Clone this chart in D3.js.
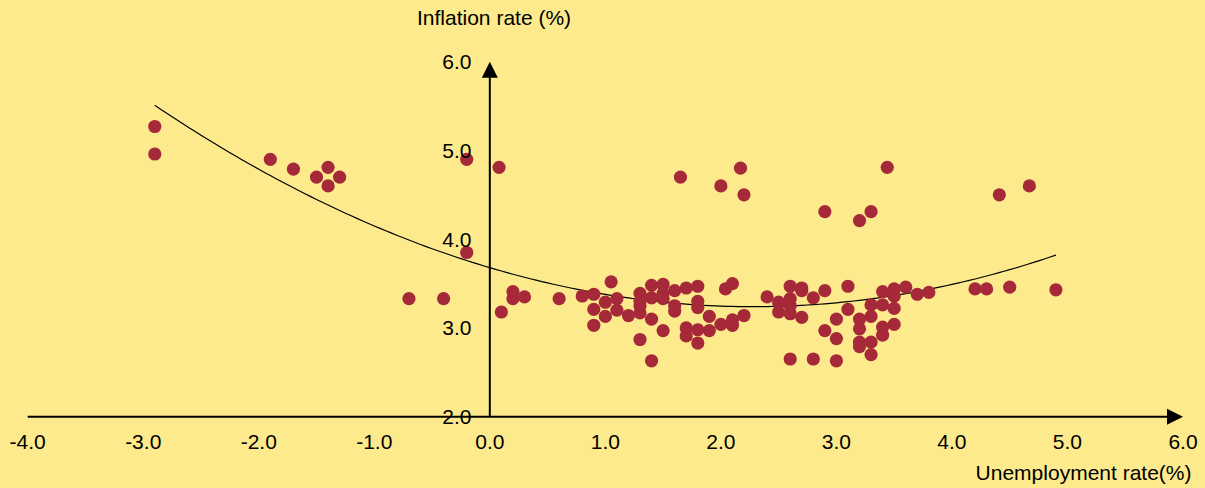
<!DOCTYPE html>
<html>
<head>
<meta charset="utf-8">
<script src="https://cdn.jsdelivr.net/npm/d3@7"></script>
<style>
  html, body { margin: 0; padding: 0; background: #FCEA8C; }
  svg { display: block; }
  text { font-family: "Liberation Sans", Arial, sans-serif; fill: #000; }
</style>
</head>
<body>
<svg id="chart" width="1205" height="488"></svg>
<script>
// ---- data ----
const unemployment = [
  -2.9, -2.9, -1.9, -1.7, -1.5, -1.4, -1.4, -1.3, -0.2, 0.08, -0.2, -0.7, -0.4, 0.1, 0.2, 0.2, 0.3, 0.6, 0.8,
  1.65, 2.0, 2.17, 2.2, 2.9, 3.2, 3.3, 3.44, 4.41, 4.67,
  4.2, 4.3, 4.5, 4.9,
  0.9, 1.05, 0.9, 0.9, 1.0, 1.0, 1.1, 1.1, 1.2, 1.3, 1.3, 1.3, 1.3, 1.3, 1.4, 1.4, 1.4, 1.4,
  1.5, 1.5, 1.5, 1.5, 1.6, 1.6, 1.6, 1.7, 1.7, 1.7, 1.8, 1.8, 1.8, 1.8, 1.8, 1.9, 1.9, 2.0, 2.04, 2.1, 2.1, 2.1, 2.2,
  2.4, 2.5, 2.5, 2.6, 2.6, 2.6, 2.6, 2.6, 2.7, 2.7, 2.7, 2.8, 2.8, 2.9, 2.9, 3.0, 3.0, 3.0,
  3.1, 3.1, 3.2, 3.2, 3.2, 3.2, 3.3, 3.3, 3.3, 3.3, 3.4, 3.4, 3.4, 3.4, 3.5, 3.5, 3.5, 3.5, 3.6, 3.7, 3.8
];
const inflation = [
  5.27, 4.96, 4.90, 4.79, 4.70, 4.81, 4.60, 4.70, 4.90, 4.81, 3.85, 3.33, 3.33, 3.18, 3.41, 3.33, 3.35, 3.33, 3.36,
  4.70, 4.60, 4.80, 4.50, 4.31, 4.21, 4.31, 4.81, 4.50, 4.60,
  3.44, 3.44, 3.46, 3.43,
  3.38, 3.52, 3.21, 3.03, 3.29, 3.13, 3.33, 3.20, 3.14, 3.39, 3.30, 3.25, 3.17, 2.87, 3.48, 3.34, 3.10, 2.63,
  3.49, 3.39, 3.33, 2.97, 3.42, 3.25, 3.19, 3.45, 3.00, 2.91, 3.47, 3.30, 3.23, 2.98, 2.83, 3.13, 2.97, 3.04, 3.44, 3.50, 3.09, 3.03, 3.14,
  3.35, 3.29, 3.18, 3.47, 3.33, 3.25, 3.16, 2.65, 3.45, 3.42, 3.12, 3.34, 2.65, 3.42, 2.97, 3.10, 2.88, 2.63,
  3.47, 3.21, 3.10, 2.99, 2.84, 2.79, 3.26, 3.13, 2.84, 2.70, 3.41, 3.26, 3.01, 2.92, 3.44, 3.36, 3.22, 3.04, 3.46, 3.38, 3.40
];
// quadratic trend line y = a*x^2 + b*x + c, over its x range
const trendCoefficients = [0.0846, -0.3856, 3.679];
const trendRange = [-2.9, 4.9];
const xTicks = [-4, -3, -2, -1, 0, 1, 2, 3, 4, 5, 6];
const yTicks = [2, 3, 4, 5, 6];
const xTitle = "Unemployment rate(%)";
const yTitle = "Inflation rate (%)";

// ---- drawing ----
const svg = d3.select("#chart");
const x = d3.scaleLinear().domain([-4, 6]).range([27.7, 1183]);
const y = d3.scaleLinear().domain([2, 6]).range([416.7, 61.7]);
const fmt = v => d3.format(".1f")(v).replace("\u2212", "-");

svg.append("rect").attr("width", 1205).attr("height", 488).attr("fill", "#FCEA8C");

// trend line
const [a, b, c] = trendCoefficients;
const tx = d3.range(trendRange[0], trendRange[1] + 1e-9, 0.05);
const line = d3.line().x(d => x(d)).y(d => y(a * d * d + b * d + c));
svg.append("path").attr("d", line(tx)).attr("fill", "none").attr("stroke", "#000").attr("stroke-width", 1.2);

// points
svg.append("g").selectAll("circle").data(unemployment.map((u, i) => [u, inflation[i]]))
  .join("circle")
  .attr("cx", d => x(d[0])).attr("cy", d => y(d[1])).attr("r", 6.6)
  .attr("fill", "#A6293A");

// axes lines
const x0 = x(0), yBase = y(2);
svg.append("line").attr("x1", x(-4)).attr("x2", x(6) - 14).attr("y1", yBase).attr("y2", yBase)
  .attr("stroke", "#000").attr("stroke-width", 2);
svg.append("path").attr("d", `M${x(6)},${yBase} L${x(6) - 16},${yBase - 8} L${x(6) - 16},${yBase + 8} Z`).attr("fill", "#000");
svg.append("line").attr("x1", x0).attr("x2", x0).attr("y1", yBase).attr("y2", y(6) + 14)
  .attr("stroke", "#000").attr("stroke-width", 2);
svg.append("path").attr("d", `M${x0},${y(6)} L${x0 - 8},${y(6) + 16} L${x0 + 8},${y(6) + 16} Z`).attr("fill", "#000");

// tick labels
svg.append("g").selectAll("text").data(xTicks).join("text")
  .attr("x", d => x(d)).attr("y", 449).attr("text-anchor", "middle")
  .attr("font-size", 21).text(d => fmt(d));
svg.append("g").selectAll("text").data(yTicks).join("text")
  .attr("x", 471.5).attr("y", d => y(d) + 7.5).attr("text-anchor", "end")
  .attr("font-size", 21).text(d => fmt(d));

// titles
svg.append("text").attr("x", 417).attr("y", 24.5).attr("font-size", 21).text(yTitle);
svg.append("text").attr("x", 1191.5).attr("y", 479.5).attr("text-anchor", "end").attr("font-size", 21).text(xTitle);
</script>
</body>
</html>
